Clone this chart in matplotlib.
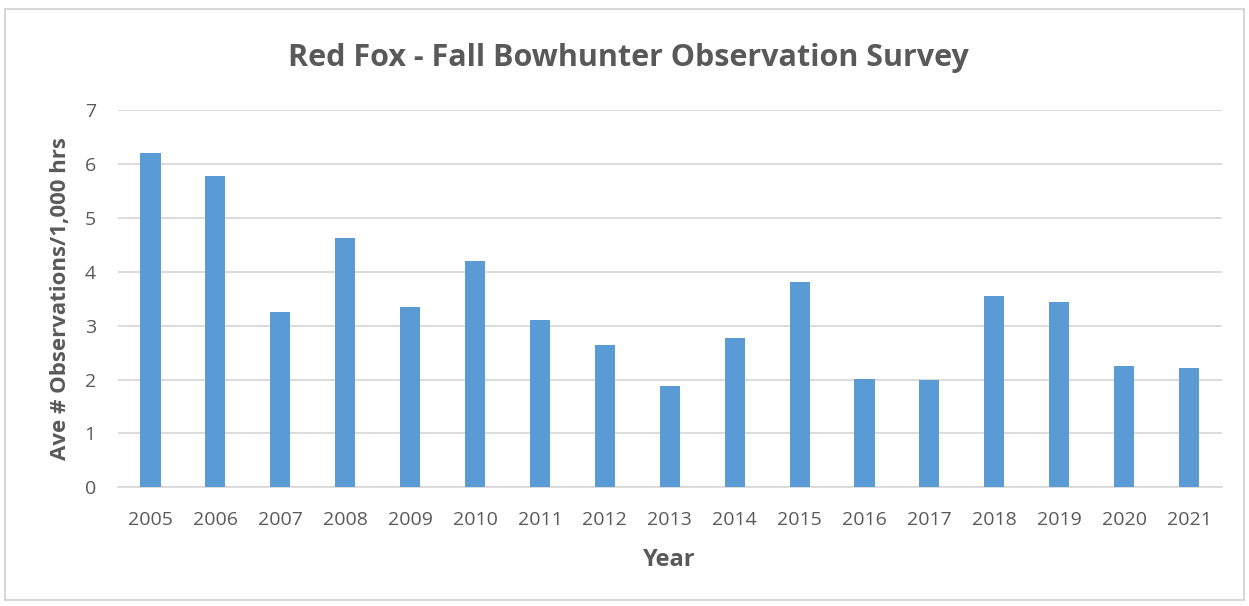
# -*- coding: utf-8 -*-
'''Red Fox - Fall Bowhunter Observation Survey bar chart'''

import matplotlib
matplotlib.use('Agg')
import matplotlib.pyplot as plt
from matplotlib.patches import Rectangle

# ----------- data ---------------
years = ['2005', '2006', '2007', '2008', '2009', '2010', '2011', '2012', '2013',
         '2014', '2015', '2016', '2017', '2018', '2019', '2020', '2021']
obs_per_1000 = [6.20, 5.78, 3.25, 4.63, 3.34, 4.20, 3.10, 2.64, 1.88,
                2.78, 3.81, 2.01, 1.99, 3.55, 3.44, 2.26, 2.21]
y_ticks = [0, 1, 2, 3, 4, 5, 6, 7]

text_color = '#595959'
bar_color = '#5b9bd5'
grid_color = '#d9d9d9'

plt.rcParams['font.family'] = ['Open Sans', 'DejaVu Sans']

fig = plt.figure(figsize=(12.49, 6.06), dpi=100)
fig.patches.append(Rectangle((0.004, 0.01), 0.992, 0.975, transform=fig.transFigure,
                             fill=False, edgecolor='#d0d0d0', linewidth=1.2))

ax = fig.add_axes([0.0945, 0.196, 0.8835, 0.622])
x = range(len(years))
ax.bar(x, obs_per_1000, width=0.31, color=bar_color, zorder=3)

ax.set_xlim(-0.5, len(years) - 0.5)
ax.set_ylim(0, 7)
ax.set_yticks(y_ticks)
ax.set_xticks(list(x))
ax.set_xticklabels(years)
ax.yaxis.grid(True, color=grid_color, linewidth=1.3, zorder=0)
ax.tick_params(axis='both', length=0, labelsize=14, colors=text_color)
ax.tick_params(axis='x', pad=17)
ax.tick_params(axis='y', pad=16)
for s in ['top', 'right', 'left']:
    ax.spines[s].set_visible(False)
ax.spines['bottom'].set_color(grid_color)
ax.spines['bottom'].set_linewidth(1.3)

ax.set_xlabel('Year', fontsize=17, fontweight='bold', color=text_color, labelpad=14)
ax.set_ylabel('Ave # Observations/1,000 hrs', fontsize=16, fontweight='bold',
              color=text_color, labelpad=10)
fig.text(0.503, 0.905, 'Red Fox - Fall Bowhunter Observation Survey', ha='center',
         va='center', fontsize=22, fontweight='bold', color=text_color)

plt.savefig('out.png', dpi=100)
plt.close()
